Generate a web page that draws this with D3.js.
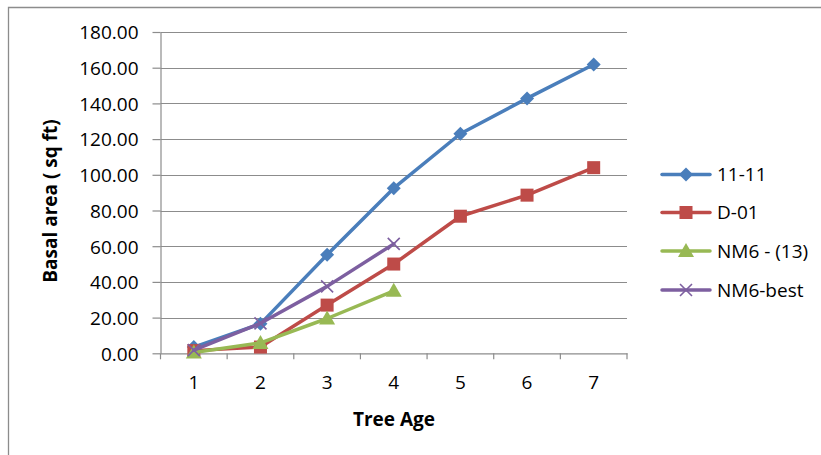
<!DOCTYPE html>
<html><head><meta charset="utf-8">
<script src="https://cdn.jsdelivr.net/npm/d3@7"></script>
<style>body{margin:0;background:#fff}svg{display:block}text{font-family:"Open Sans",sans-serif}</style>
</head><body><svg id="c" width="821" height="455"></svg>
<script>
const ages = [1, 2, 3, 4, 5, 6, 7];
const s1111 = [3.5, 16.5, 55.2, 92.5, 123.0, 142.8, 161.8];
const sD01 = [1.5, 3.5, 27.0, 50.0, 76.8, 88.6, 104.0];
const sNM613 = [0.5, 5.8, 19.5, 35.0];
const sNM6best = [1.8, 16.8, 37.5, 61.3];
const yTicks = [0, 20, 40, 60, 80, 100, 120, 140, 160, 180];
const seriesNames = ["11-11", "D-01", "NM6 - (13)", "NM6-best"];
const seriesColors = ["#4A7EBB", "#BE4B48", "#98B954", "#7D5FA0"];
const seriesMarkers = ["diamond", "square", "triangle", "x"];
const seriesData = [s1111, sD01, sNM613, sNM6best];

const svg = d3.select("#c");
svg.append("path").attr("d","M8.5,455 L8.5,7.5 L821,7.5").attr("fill","none").attr("stroke","#8c8c8c").attr("stroke-width",1.3);

const L = 160.5, R = 627, T = 32, B = 353.3;
const x = d3.scaleBand().domain(ages).range([L, R]);
const y = d3.scaleLinear().domain([0, 180]).range([B, T]);

svg.append("g").selectAll("line").data(yTicks.slice(1)).join("line")
  .attr("x1", L).attr("x2", R).attr("y1", d => Math.round(y(d))+0.5).attr("y2", d => Math.round(y(d))+0.5)
  .attr("stroke", "#8c8c8c").attr("stroke-width", 1.2);

const yAxis = d3.axisLeft(y).tickValues(yTicks).tickFormat(d3.format(".2f")).tickSizeOuter(0).tickSizeInner(8).tickPadding(14);
const gy = svg.append("g").attr("transform", `translate(${L},0)`).call(yAxis);
gy.select(".domain").attr("stroke", "#8c8c8c").attr("stroke-width", 1.2);
gy.selectAll(".tick line").attr("stroke", "#8c8c8c").attr("stroke-width", 1.2);
gy.selectAll("text").attr("font-size", 19).attr("fill", "#000").attr("dy", "0.36em");

const xAxis = d3.axisBottom(x).tickSize(0).tickPadding(22);
const gx = svg.append("g").attr("transform", `translate(0,${B})`).call(xAxis);
gx.select(".domain").attr("stroke", "#8c8c8c").attr("stroke-width", 1.2);
gx.selectAll("text").attr("font-size", 19).attr("fill", "#000");
svg.append("g").selectAll("line").data(ages.concat([8])).join("line")
  .attr("x1", (d,i) => L + i*x.step()).attr("x2", (d,i) => L + i*x.step())
  .attr("y1", B).attr("y2", B+6).attr("stroke", "#8c8c8c").attr("stroke-width", 1.2);

svg.append("text").attr("x", 394).attr("y", 426).attr("text-anchor", "middle")
  .attr("font-size", 19).attr("font-weight", "bold").text("Tree Age");
svg.append("text").attr("transform", "translate(57,201) rotate(-90)").attr("text-anchor", "middle")
  .attr("font-size", 19).attr("font-weight", "bold").text("Basal area ( sq ft)");

function marker(g, type, color, cx, cy) {
  if (type === "diamond") {
    g.append("path").attr("d", `M${cx},${cy-7} L${cx+7},${cy} L${cx},${cy+7} L${cx-7},${cy} Z`).attr("fill", color);
  } else if (type === "square") {
    g.append("rect").attr("x", cx-6.5).attr("y", cy-6.5).attr("width", 13).attr("height", 13).attr("fill", color);
  } else if (type === "triangle") {
    g.append("path").attr("d", `M${cx},${cy-8} L${cx+8},${cy+6} L${cx-8},${cy+6} Z`).attr("fill", color);
  } else {
    g.append("path").attr("d", `M${cx-6},${cy-6} L${cx+6},${cy+6} M${cx-6},${cy+6} L${cx+6},${cy-6}`)
      .attr("stroke", color).attr("stroke-width", 1.6).attr("fill", "none");
  }
}

const line = d3.line().x((d, i) => x(ages[i]) + x.bandwidth()/2).y(d => y(d));
seriesData.forEach((data, k) => {
  const g = svg.append("g");
  g.append("path").datum(data).attr("d", line).attr("fill", "none")
    .attr("stroke", seriesColors[k]).attr("stroke-width", 3.5).attr("stroke-linejoin", "round").attr("stroke-linecap", "round");
  data.forEach((v, i) => marker(g, seriesMarkers[k], seriesColors[k], x(ages[i]) + x.bandwidth()/2, y(v)));
});

const legY = [174.5, 212.5, 251, 290];
seriesNames.forEach((n, k) => {
  const g = svg.append("g");
  g.append("line").attr("x1", 662).attr("x2", 710).attr("y1", legY[k]).attr("y2", legY[k])
    .attr("stroke", seriesColors[k]).attr("stroke-width", 3.5).attr("stroke-linecap", "round");
  marker(g, seriesMarkers[k], seriesColors[k], 686, legY[k]);
  g.append("text").attr("x", 717).attr("y", legY[k]).attr("dy", "0.36em").attr("font-size", 19).text(n);
});
</script></body></html>
